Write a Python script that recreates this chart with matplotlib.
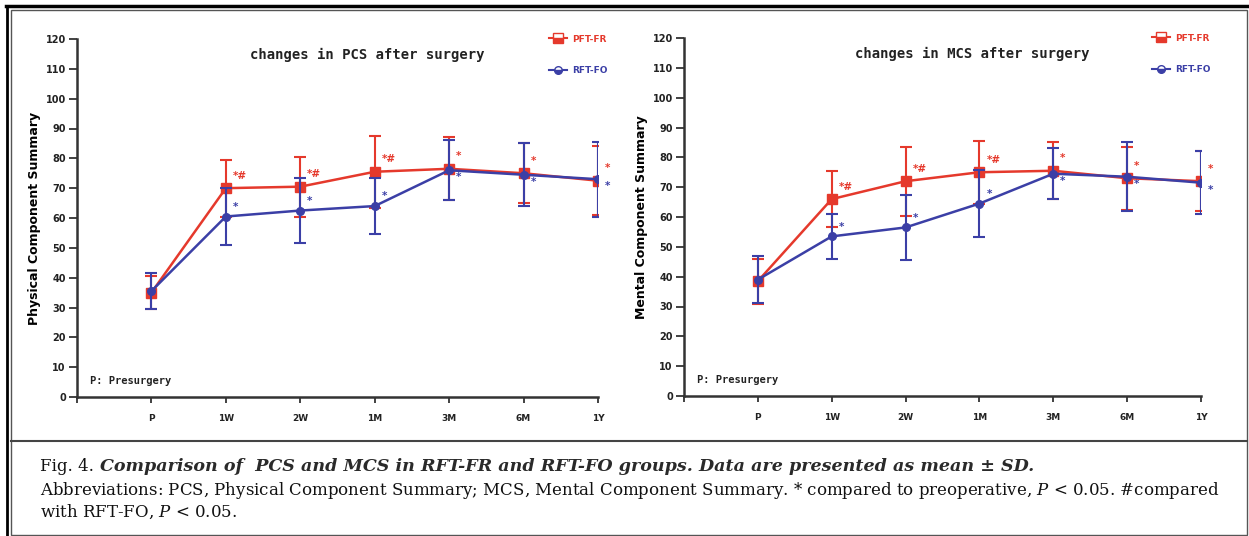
import numpy as np
import matplotlib.pyplot as plt
from matplotlib.lines import Line2D
from matplotlib.patches import Rectangle

plt.rcParams['mathtext.fontset'] = 'dejavuserif'

times = ['P', '1W', '2W', '1M', '3M', '6M', '1Y']

# PCS, mean and SD
pcs_fr_mean = [35.0, 70.0, 70.5, 75.5, 76.5, 75.0, 72.5]
pcs_fr_sd = [5.5, 9.5, 10.0, 12.0, 10.5, 10.0, 11.5]
pcs_fo_mean = [35.5, 60.5, 62.5, 64.0, 76.0, 74.5, 73.0]
pcs_fo_sd = [6.0, 9.5, 11.0, 9.5, 10.0, 10.5, 12.5]

# MCS
mcs_fr_mean = [38.5, 66.0, 72.0, 75.0, 75.5, 73.0, 72.0]
mcs_fr_sd = [7.5, 9.5, 11.5, 10.5, 9.5, 10.5, 10.0]
mcs_fo_mean = [39.0, 53.5, 56.5, 64.5, 74.5, 73.5, 71.5]
mcs_fo_sd = [7.8, 7.5, 11.0, 11.3, 8.5, 11.5, 10.5]

fr_marks = ['', '*#', '*#', '*#', '*', '*', '*']
fo_marks = ['', '*', '*', '*', '*', '*', '*']

RED = '#e5392c'
BLUE = '#3b3fa6'
AXC = '#333333'

W, H = 1249, 536
fig = plt.figure(figsize=(W / 100, H / 100), dpi=100)


def px(x0, y0, x1, y1):
    # pixel box -> figure fraction rect
    return [x0 / W, 1 - y1 / H, (x1 - x0) / W, (y1 - y0) / H]


def panel(rect, fr_m, fr_s, fo_m, fo_s, title, ylabel):
    ax = fig.add_axes(rect)
    x = np.arange(len(times))
    ax.errorbar(x, fr_m, yerr=fr_s, color=RED, lw=1.8, elinewidth=1.5,
                capsize=4, capthick=1.5, marker='s', ms=6.5,
                mfc=RED, mec=RED, zorder=3)
    ax.errorbar(x, fo_m, yerr=fo_s, color=BLUE, lw=1.8, elinewidth=1.5,
                capsize=4, capthick=1.5, marker='o', ms=5.5,
                mfc=BLUE, mec=BLUE, zorder=4)

    for i in range(len(times)):
        if fr_marks[i]:
            ax.annotate(fr_marks[i], (x[i], fr_m[i]), xytext=(5, 9),
                        textcoords='offset points', color=RED, fontsize=7.5,
                        fontweight='bold', ha='left', va='center')
        if fo_marks[i]:
            dy = 7 if fo_m[i] < fr_m[i] - 3 else -5
            ax.annotate(fo_marks[i], (x[i], fo_m[i]), xytext=(5, dy),
                        textcoords='offset points', color=BLUE, fontsize=7.5,
                        fontweight='bold', ha='left', va='center')

    ax.set_xlim(-1, 6)
    ax.set_ylim(0, 120)
    ax.set_yticks(np.arange(0, 121, 10))
    ax.set_xticks(np.arange(-1, 7))
    ax.set_xticklabels([''] + times)
    for s in ['top', 'right']:
        ax.spines[s].set_visible(False)
    for s in ['left', 'bottom']:
        ax.spines[s].set_color(AXC)
        ax.spines[s].set_linewidth(1.8)
    ax.tick_params(axis='y', direction='out', length=6, width=1.3,
                   color=AXC, labelsize=7, pad=2)
    ax.tick_params(axis='x', direction='out', length=4, width=1.3,
                   color=AXC, labelsize=6.5, pad=8)
    for lab in ax.get_xticklabels() + ax.get_yticklabels():
        lab.set_fontweight('bold')
        lab.set_color('#222222')

    ax.set_ylabel(ylabel, fontsize=9, fontweight='bold', labelpad=3)
    ax.text(0.558, 114.5, title, transform=ax.get_yaxis_transform(),
            ha='center', va='center', fontsize=10, fontweight='bold',
            family='DejaVu Sans Mono', color='#222222')
    ax.text(0.025, 5.4, 'P: Presurgery', transform=ax.get_yaxis_transform(),
            ha='left', va='center', fontsize=7.5, fontweight='bold',
            family='DejaVu Sans Mono', color='#222222')

    handles = [Line2D([], [], color=RED, lw=1.5, marker='s', ms=6.5,
                      fillstyle='bottom', mec=RED, mfc=RED, mfcalt='white'),
               Line2D([], [], color=BLUE, lw=1.5, marker='o', ms=5.5,
                      fillstyle='bottom', mec=BLUE, mfc=BLUE, mfcalt='white')]
    leg = ax.legend(handles, ['PFT-FR', 'RFT-FO'], loc='upper right',
                    bbox_to_anchor=(1.035, 1.035), frameon=False,
                    labelspacing=2.5, handlelength=2.0, handletextpad=0.6,
                    prop={'size': 6.5, 'weight': 'bold'})
    for t, c in zip(leg.get_texts(), [RED, BLUE]):
        t.set_color(c)
    return ax


panel(px(77, 39, 598, 397), pcs_fr_mean, pcs_fr_sd, pcs_fo_mean, pcs_fo_sd,
      'changes in PCS after surgery', 'Physical Component Summary')
panel(px(684, 38, 1201, 396), mcs_fr_mean, mcs_fr_sd, mcs_fo_mean, mcs_fo_sd,
      'changes in MCS after surgery', 'Mental Component Summary')

# frame around figure and caption
fig.add_artist(Rectangle((11 / W, 1 / H), (1247 - 11) / W, 1 - 11 / H,
                         transform=fig.transFigure, fill=False,
                         ec='#555555', lw=1.0))
fig.add_artist(Line2D([6 / W, 1], [1 - 6 / H, 1 - 6 / H],
                      transform=fig.transFigure, color='black', lw=2.5))
fig.add_artist(Line2D([7 / W, 7 / W], [0, 1 - 6 / H],
                      transform=fig.transFigure, color='black', lw=2.0))
fig.add_artist(Line2D([11 / W, 1247 / W], [1 - 441 / H, 1 - 441 / H],
                      transform=fig.transFigure, color='#444444', lw=1.5))

cap_kw = dict(fontsize=12.0, family='DejaVu Serif', va='baseline',
              ha='left', color='#111111')
t1 = fig.text(40 / W, 1 - 471 / H, 'Fig. 4.', **cap_kw)
r = fig.canvas.get_renderer()
x1 = t1.get_window_extent(r).x1 + 6
fig.text(x1 / W, 1 - 471 / H,
         'Comparison of  PCS and MCS in RFT-FR and RFT-FO groups. '
         'Data are presented as mean \u00b1 SD.',
         fontstyle='italic', fontweight='bold',
         **dict(cap_kw, fontsize=12.6, color='#2a2a2a'))
fig.text(40 / W, 1 - 495 / H,
         'Abbreviations: PCS, Physical Component Summary; MCS, Mental '
         'Component Summary. * compared to preoperative, $\\mathit{P}$ < 0.05. '
         '#compared', **cap_kw)
fig.text(40 / W, 1 - 517 / H, 'with RFT-FO, $\\mathit{P}$ < 0.05.', **cap_kw)

fig.savefig('out.png', dpi=100)
